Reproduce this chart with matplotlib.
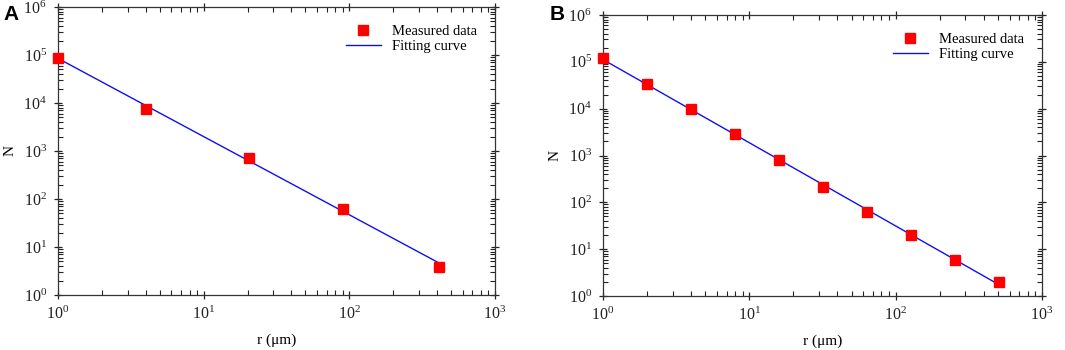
import numpy as np
import matplotlib
matplotlib.use('Agg')
from matplotlib import pyplot as plt
from matplotlib.ticker import LogLocator, NullFormatter

# panel A
r_a = [1, 4, 20.5, 91, 410]
n_a = [87000, 7400, 720, 61, 3.9]
fit_r_a = [1, 410]
fit_n_a = [85000, 4.7]

# panel B
r_b = [1, 2, 4, 8, 16, 32, 64, 128, 256, 512]
n_b = [120000, 34000, 9700, 2840, 790, 215, 62, 20, 6, 2]
fit_r_b = [1, 512]
fit_n_b = [112000, 1.72]

plt.rcParams['font.family'] = ['Liberation Serif', 'DejaVu Serif']
plt.rcParams['mathtext.fontset'] = 'stix'

fig = plt.figure(figsize=(10.65, 3.5), dpi=100)
ax_a = fig.add_axes([58 / 1065, 1 - 295 / 350, 437 / 1065, 288 / 350])
ax_b = fig.add_axes([603 / 1065, 1 - 296 / 350, 439 / 1065, 281 / 350])


def style(ax, r, n, fr, fn):
    ax.plot(fr, fn, color='#1010ee', lw=1.0, label='Fitting curve', zorder=2)
    ax.plot(r, n, 's', color='#ff0000', ms=6.5, label='Measured data', zorder=3,
            clip_on=False)
    ax.set_xscale('log')
    ax.set_yscale('log')
    ax.set_xlim(1, 1000)
    ax.set_ylim(1, 1e6)
    ax.set_xticks(10.0 ** np.arange(0, 4))
    ax.set_yticks(10.0 ** np.arange(0, 7))
    ax.xaxis.set_minor_locator(LogLocator(base=10, subs=np.arange(2, 10), numticks=10))
    ax.yaxis.set_minor_locator(LogLocator(base=10, subs=np.arange(2, 10), numticks=10))
    ax.xaxis.set_minor_formatter(NullFormatter())
    ax.yaxis.set_minor_formatter(NullFormatter())
    ax.set_xlim(1, 1000)
    ax.set_ylim(1, 1e6)
    ax.tick_params(which='major', direction='inout', length=6, width=0.9,
                   top=True, right=True, labelsize=11.5, colors='#222222', pad=5)
    ax.tick_params(which='minor', direction='in', length=3.5, width=0.8,
                   top=True, right=True, colors='#222222')
    for s in ax.spines.values():
        s.set_color('#333333')
        s.set_linewidth(0.9)
    ax.set_xlabel('r (μm)', fontsize=11, labelpad=7)
    ax.set_ylabel('N', fontsize=11, labelpad=5)
    h, l = ax.get_legend_handles_labels()
    ax.legend(h[::-1], l[::-1], loc='upper right', frameon=False, fontsize=10.5,
              handlelength=2.4, borderaxespad=0.8, labelspacing=0.15,
              handletextpad=0.8)


style(ax_a, r_a, n_a, fit_r_a, fit_n_a)
style(ax_b, r_b, n_b, fit_r_b, fit_n_b)

fig.text(3 / 1065, 1 - 15 / 350, 'A', fontsize=15, fontweight='bold',
         family='Liberation Sans', va='center')
fig.text(550 / 1065, 1 - 15 / 350, 'B', fontsize=15, fontweight='bold',
         family='Liberation Sans', va='center')

fig.savefig('out.png', dpi=100)
